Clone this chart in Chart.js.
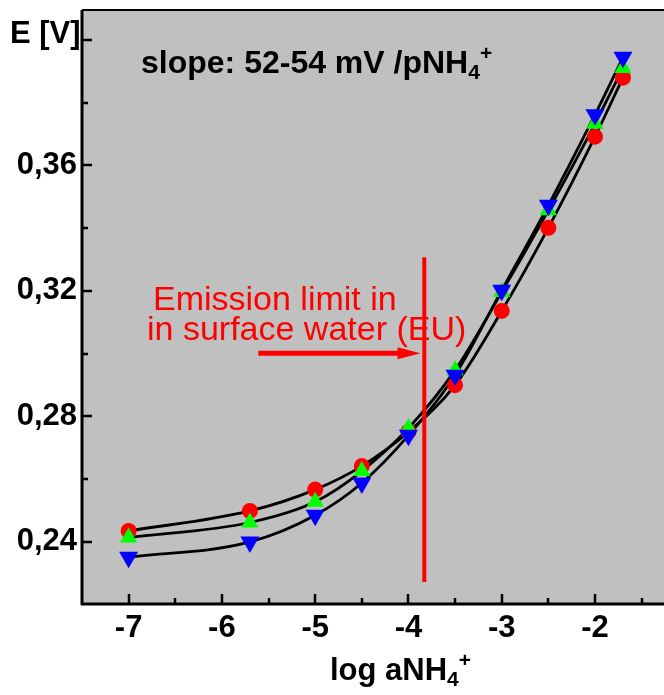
<!DOCTYPE html>
<html>
<head>
<meta charset="utf-8">
<script src="https://cdn.jsdelivr.net/npm/chart.js@4.4.1/dist/chart.umd.min.js"></script>
<style>
html,body{margin:0;padding:0;background:#fff;overflow:hidden}
#wrap{width:664px;height:695px;position:relative}
</style>
</head>
<body>
<div id="wrap"><canvas id="chart"></canvas></div>
<script>
/* ===== DATA ===== */
const LOG_A   =[-7,-5.7,-5,-4.5,-4,-3.5,-3,-2.5,-2,-1.7];
const E_RED   =[0.2434,0.2498,0.2566,0.2641,0.2750,0.2899,0.3136,0.3401,0.3692,0.3880];
const E_GREEN =[0.2413,0.2461,0.2527,0.2625,0.2762,0.2947,0.3196,0.3457,0.3733,0.3911];
const E_BLUE  =[0.2350,0.2399,0.2484,0.2587,0.2739,0.2931,0.3202,0.3473,0.3762,0.3945];

const X_TICKS =[-7,-6.5,-6,-5.5,-5,-4.5,-4,-3.5,-3,-2.5,-2,-1.5];
const X_LABELS=[-7,-6,-5,-4,-3,-2];
const Y_TICKS =[0.24,0.26,0.28,0.30,0.32,0.34,0.36,0.38,0.40];
const Y_LABELS=[0.24,0.28,0.32,0.36];

// emission limit marker + arrow (data units)
const LIMIT_X=-3.83, LIMIT_Y=[0.2271,0.3307];
const ARROW_X=[-5.61,-3.87], ARROW_Y=0.3001;

const FONT='"Liberation Sans", Arial, sans-serif';
const pts=ys=>LOG_A.map((x,i)=>({x,y:ys[i]}));
const isIn=(arr,v)=>arr.some(a=>Math.abs(a-v)<1e-6);

/* ===== HELPERS ===== */
// text with sub/superscript parts: [text, size, dy]
function richText(ctx,x,y,parts,weight,color){
  ctx.save();
  ctx.fillStyle=color;ctx.textBaseline='alphabetic';ctx.textAlign='left';
  let cx=x;
  parts.forEach(([t,size,dy])=>{
    ctx.font=`${weight} ${size}px ${FONT}`;
    ctx.fillText(t,cx,y+dy);
    cx+=ctx.measureText(t).width;
  });
  ctx.restore();
}

const decor={
  id:'decor',
  beforeDraw(chart){
    const {ctx,chartArea:a}=chart;
    ctx.save();
    ctx.fillStyle='#c0c0c0';
    ctx.fillRect(a.left,a.top,a.right-a.left,a.bottom-a.top);
    ctx.restore();
  },
  afterDatasetsDraw(chart){
    const {ctx,scales:{x,y}}=chart;
    ctx.save();
    ctx.strokeStyle='#ff0000';ctx.fillStyle='#ff0000';
    // vertical limit line
    ctx.lineWidth=4;
    const lx=x.getPixelForValue(LIMIT_X);
    ctx.beginPath();
    ctx.moveTo(lx,y.getPixelForValue(LIMIT_Y[0]));
    ctx.lineTo(lx,y.getPixelForValue(LIMIT_Y[1]));
    ctx.stroke();
    // arrow
    const ax0=x.getPixelForValue(ARROW_X[0]), ax1=x.getPixelForValue(ARROW_X[1]);
    const ay=y.getPixelForValue(ARROW_Y);
    ctx.lineWidth=5;
    ctx.beginPath();ctx.moveTo(ax0,ay);ctx.lineTo(ax1-20,ay);ctx.stroke();
    ctx.beginPath();
    ctx.moveTo(ax1,ay);ctx.lineTo(ax1-23,ay-6);ctx.lineTo(ax1-23,ay+6);ctx.closePath();ctx.fill();
    // label
    ctx.font=`34px ${FONT}`;ctx.textBaseline='alphabetic';ctx.textAlign='left';
    ctx.fillText('Emission limit in',153,310);
    ctx.fillText('in surface water (EU)',147,340);
    ctx.restore();
  },
  afterDraw(chart){
    const {ctx,chartArea:a,scales:{x,y}}=chart;
    ctx.save();
    ctx.strokeStyle='#000';
    // axes frame
    ctx.lineWidth=3;
    ctx.beginPath();
    ctx.moveTo(a.left,a.top);ctx.lineTo(a.left,a.bottom+1);
    ctx.moveTo(a.left-1,a.bottom);ctx.lineTo(a.right,a.bottom);
    ctx.stroke();
    ctx.lineWidth=2;
    ctx.beginPath();ctx.moveTo(a.left,a.top);ctx.lineTo(a.right,a.top);ctx.stroke();
    // inward ticks
    ctx.lineWidth=2.5;
    ctx.beginPath();
    X_TICKS.forEach(v=>{
      const px=Math.round(x.getPixelForValue(v));
      const len=isIn(X_LABELS,v)?10:6;
      ctx.moveTo(px,a.bottom);ctx.lineTo(px,a.bottom-len);
    });
    Y_TICKS.forEach(v=>{
      const py=Math.round(y.getPixelForValue(v));
      const len=(Math.round(v*100)%4===0)?10:6;
      ctx.moveTo(a.left,py);ctx.lineTo(a.left+len,py);
    });
    ctx.stroke();
    ctx.restore();
    // titles
    richText(ctx,10,43,[['E [V]',31,0]],'bold','#000');
    richText(ctx,141,73,[['slope: 52-54 mV /pNH',32,0],['4',21,6],['+',21,-13]],'bold','#000');
    richText(ctx,330,680,[['log aNH',31,0],['4',21,6],['+',21,-13]],'bold','#000');
  }
};

/* ===== CHART ===== */
const lineDs=(ys)=>({data:pts(ys),showLine:true,borderColor:'#000',borderWidth:2.8,
  pointRadius:0,tension:0.4,cubicInterpolationMode:'monotone',fill:false,order:3});
const markDs=(ys,color,style,r,rot,order)=>({data:pts(ys),showLine:false,
  pointStyle:style,pointRadius:r,pointRotation:rot,backgroundColor:color,borderColor:color,
  borderWidth:0,order});

const noGrid={display:false,drawTicks:false,tickLength:0};

new Chart(document.getElementById('chart'),{
  type:'scatter',
  data:{datasets:[
    markDs(E_BLUE,'#0000ff','triangle',11,180,0),
    markDs(E_GREEN,'#00ff00','triangle',10,0,1),
    markDs(E_RED,'#ff0000','circle',8,0,2),
    lineDs(E_RED),lineDs(E_GREEN),lineDs(E_BLUE)
  ]},
  options:{
    responsive:true,maintainAspectRatio:false,animation:false,
    layout:{autoPadding:false,padding:{top:10,right:0,left:0,bottom:0}},
    plugins:{legend:{display:false},tooltip:{enabled:false}},
    scales:{
      x:{type:'linear',min:-7.5,max:-1.26,
        grid:noGrid,border:{display:false},
        afterBuildTicks:s=>{s.ticks=X_TICKS.map(v=>({value:v}));},
        afterFit:s=>{s.height=91;s.paddingLeft=0;s.paddingRight=0;},
        ticks:{autoSkip:false,maxRotation:0,padding:6,color:'#000',
          font:{family:FONT,size:31,weight:'bold'},
          callback:v=>isIn(X_LABELS,v)?String(v):''}},
      y:{type:'linear',min:0.2201,max:0.4096,
        grid:noGrid,border:{display:false},
        afterBuildTicks:s=>{s.ticks=Y_TICKS.map(v=>({value:v}));},
        afterFit:s=>{s.width=82;s.paddingTop=0;s.paddingBottom=0;},
        ticks:{autoSkip:false,padding:5,color:'#000',
          font:{family:FONT,size:31,weight:'bold'},
          callback:v=>isIn(Y_LABELS,v)?v.toFixed(2).replace('.',','):''}}
    }
  },
  plugins:[decor]
});
</script>
</body>
</html>
